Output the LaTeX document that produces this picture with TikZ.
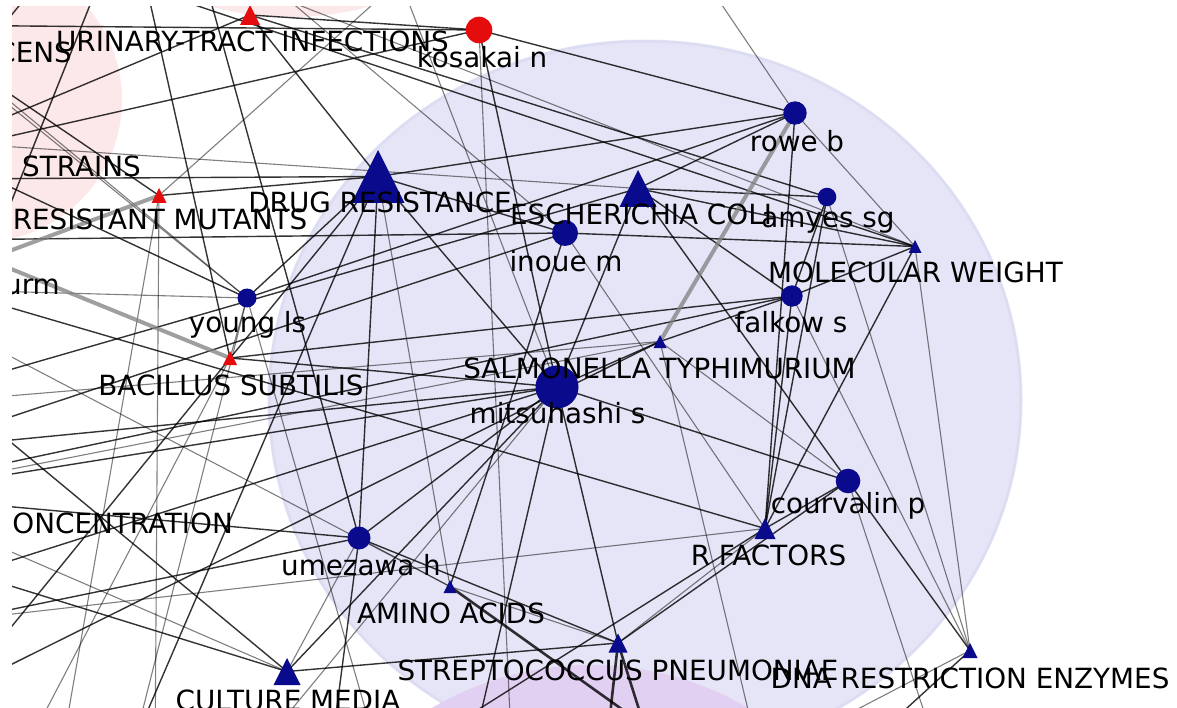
\documentclass[tikz,border=0pt]{standalone}
\usepackage{fontspec}
\setmainfont{DejaVu Sans}
\definecolor{navy}{RGB}{10,10,140}
\definecolor{nodered}{RGB}{228,12,12}
\definecolor{lav}{RGB}{229,229,247}
\definecolor{lavedge}{RGB}{212,212,240}
\definecolor{blush}{RGB}{252,232,232}
\definecolor{lilac}{RGB}{226,208,242}
\tikzset{
  e/.style={black, opacity=0.8, line width=1.4pt},
  el/.style={black, opacity=0.5, line width=1.1pt},
  et/.style={gray, opacity=0.75, line width=4pt},
  ed/.style={black, opacity=0.8, line width=2.6pt},
  lab/.style={inner sep=0pt, font=\fontsize{27.8}{30}\selectfont, text=black},
}
\newcommand\markertri[3]{\fill[#3] (#1) ++(0,-#2) -- ++(#2,2*#2) -- ++(-2*#2,0) -- cycle;}
\begin{document}
\begin{tikzpicture}[x=1pt,y=-1pt]
\useasboundingbox (0,0) rectangle (1177,708);
\fill[white] (0,0) rectangle (1177,708);
\begin{scope}
\clip (12,7) rectangle (1177,708);
% community shading
\fill[blush] (-20,100) circle (142pt);
\fill[blush] (290,-285) circle (302pt);
\fill[lav] (645,400) ellipse [x radius=377pt, y radius=360pt];
\draw[lavedge, line width=3pt, opacity=0.5] (645,400) ellipse [x radius=376pt, y radius=359pt];
\fill[lilac] (590,977) circle (312pt);

% node positions
\coordinate (uti) at (250,15);
\coordinate (kos) at (479,30);
\coordinate (resm) at (159,195.5);
\coordinate (drug) at (378,176.5);
\coordinate (ecoli) at (638,188.5);
\coordinate (rowe) at (795,113);
\coordinate (amyes) at (827,197);
\coordinate (inoue) at (565,233);
\coordinate (mw) at (915,246.5);
\coordinate (falkow) at (792,296);
\coordinate (salm) at (660,341.5);
\coordinate (mitsu) at (557,387);
\coordinate (young) at (247,298);
\coordinate (bac) at (230,358);
\coordinate (court) at (848,481);
\coordinate (rfac) at (765,528.5);
\coordinate (umez) at (359,538);
\coordinate (amino) at (450,586.5);
\coordinate (strep) at (618,643);
\coordinate (dna) at (970,650.5);
\coordinate (cult) at (287,671.5);
% nodes lying outside the frame
\coordinate (cens) at (-90,25);
\coordinate (strains) at (-90,140);
\coordinate (urm) at (-60,240);
\coordinate (conc) at (-120,495);
\coordinate (wA) at (-60,179);
\coordinate (wB) at (-60,145);
\coordinate (wC) at (-60,152);
\coordinate (wD) at (-50,273);
\coordinate (wE) at (-50,387);
\coordinate (wF) at (-50,437);
\coordinate (wG) at (-50,475);
\coordinate (wH) at (-50,446);
\coordinate (wI) at (-50,580);
\coordinate (wJ) at (-60,564);
\coordinate (wK) at (-40,400);
\coordinate (wL) at (-50,290);
\coordinate (wM) at (-40,60);
\coordinate (wN) at (-40,690);
\coordinate (wO) at (-40,330);
\coordinate (wP) at (-40,620);
\coordinate (tA) at (705,-20);
\coordinate (tB) at (100,-20);
\coordinate (tC) at (265,-20);
\coordinate (tD) at (205,-20);
\coordinate (tE) at (230,-22);
\coordinate (tF) at (165,-5);
\coordinate (tG) at (145,-20);
\coordinate (tH) at (40,-20);
\coordinate (tI) at (400,-20);
\coordinate (bA) at (512,760);
\coordinate (bB) at (155,760);
\coordinate (bC) at (135,740);
\coordinate (bD) at (330,760);
\coordinate (bE) at (605,760);
\coordinate (bF) at (655,760);
\coordinate (bG) at (693,760);
\coordinate (bH) at (430,740);
\coordinate (bI) at (850,760);
\coordinate (bJ) at (130,760);
\coordinate (bK) at (60,760);
\coordinate (bL) at (250,760);
\coordinate (bM) at (760,760);
\coordinate (bN) at (940,760);
\coordinate (bO) at (470,760);
\coordinate (bP) at (20,760);
\coordinate (bQ) at (380,760);

% connectors
\foreach \a/\b in {uti/kos, kos/rowe, kos/mitsu, rowe/drug, rowe/ecoli, rowe/rfac,
  drug/wA, drug/umez, drug/mitsu, drug/bC, ecoli/mitsu, ecoli/amyes, ecoli/mw,
  ecoli/court, inoue/mw, falkow/salm, falkow/rfac, amyes/rfac, mw/rfac, mw/falkow,
  court/dna, court/rfac, court/mitsu, strep/mitsu, strep/umez, strep/court,
  amino/inoue, umez/conc, umez/mitsu, young/rowe, bac/falkow, cult/mitsu,
  uti/drug, uti/amyes, wB/uti, wC/kos, urm/inoue, wE/ecoli, wF/inoue, wG/falkow,
  wH/mitsu, wI/mitsu, wJ/cult, wK/cult, wL/rfac, conc/mitsu, tD/umez, tF/mw,
  resm/drug, cens/kos, strains/young, wM/resm, cult/strep, rfac/bH, umez/bD,
  dna/bI, young/drug, mitsu/bac, inoue/drug, salm/mitsu, tB/wO, tH/strains,
  tG/bac, wN/drug, mitsu/bO, ecoli/falkow, amyes/falkow, wN/salm, wP/umez}
  \draw[e] (\a) -- (\b);
\foreach \a/\b in {kos/bA, rowe/mw, rowe/tA, amyes/dna, falkow/dna, young/bac,
  amino/umez, amino/drug, resm/bB, tC/inoue, tE/mw, young/wL, young/cens,
  tI/mitsu, wO/amino, wK/salm, rfac/strep, mw/dna, court/salm, umez/cult,
  conc/salm, strains/ecoli, wM/young, bJ/young, bK/resm, bL/mitsu, bM/salm,
  bN/court, tI/resm, dna/bM, strep/amino, inoue/rfac, bP/bac, bQ/young,
  wP/rfac, conc/cult}
  \draw[el] (\a) -- (\b);
\foreach \a/\b in {strep/bE, strep/bF, amino/bG}
  \draw[ed] (\a) -- (\b);
\draw[et] (rowe) -- (salm);
\draw[et] (urm) -- (bac);
\draw[et] (wD) -- (resm);

% markers
\fill[nodered] (kos) circle (13.3pt);
\fill[navy] (rowe) circle (11.7pt);
\fill[navy] (amyes) circle (9.3pt);
\fill[navy] (inoue) circle (13pt);
\fill[navy] (falkow) circle (10.7pt);
\fill[navy] (mitsu) circle (21.5pt);
\fill[navy] (young) circle (9.5pt);
\fill[navy] (court) circle (12.3pt);
\fill[navy] (umez) circle (11.5pt);
\markertri{uti}{10}{nodered}
\markertri{resm}{7.5}{nodered}
\markertri{bac}{7}{nodered}
\markertri{drug}{26.5}{navy}
\markertri{ecoli}{18.5}{navy}
\markertri{mw}{6.5}{navy}
\markertri{salm}{6.5}{navy}
\markertri{rfac}{10.5}{navy}
\markertri{amino}{6.5}{navy}
\markertri{strep}{9.5}{navy}
\markertri{dna}{7.5}{navy}
\markertri{cult}{13.5}{navy}

% labels
\node[lab, anchor=base] (l-uti) at (252.5,52) {URINARY-TRACT INFECTIONS};
\node[lab, anchor=base east] (l-cens) at (72,63) {CENS};
\node[lab, anchor=base] (l-kos) at (482,68) {kosakai n};
\node[lab, anchor=base west] (l-strains) at (22,177) {STRAINS};
\node[lab, anchor=base] (l-resm) at (160,230) {RESISTANT MUTANTS};
\node[lab, anchor=base] (l-drug) at (380,213) {DRUG RESISTANCE};
\node[lab, anchor=base] (l-ecoli) at (641,225) {ESCHERICHIA COLI};
\node[lab, anchor=base] (l-rowe) at (797,152) {rowe b};
\node[lab, anchor=base] (l-amyes) at (828,228) {amyes sg};
\node[lab, anchor=base] (l-inoue) at (566,272) {inoue m};
\node[lab, anchor=base] (l-mw) at (915.5,283) {MOLECULAR WEIGHT};
\node[lab, anchor=base] (l-falkow) at (791,333) {falkow s};
\node[lab, anchor=base] (l-salm) at (659.5,378) {SALMONELLA TYPHIMURIUM};
\node[lab, anchor=base] (l-mitsu) at (557.5,423) {mitsuhashi s};
\node[lab, anchor=base] (l-young) at (247.5,333) {young ls};
\node[lab, anchor=base] (l-bac) at (231,395) {BACILLUS SUBTILIS};
\node[lab, anchor=base east] (l-urm) at (60,295) {urm};
\node[lab, anchor=base east] (l-conc) at (233,533) {CONCENTRATION};
\node[lab, anchor=base] (l-court) at (848,513) {courvalin p};
\node[lab, anchor=base] (l-rfac) at (768.5,565) {R FACTORS};
\node[lab, anchor=base] (l-umez) at (361,575) {umezawa h};
\node[lab, anchor=base] (l-amino) at (451,623) {AMINO ACIDS};
\node[lab, anchor=base] (l-strep) at (618,680) {STREPTOCOCCUS PNEUMONIAE};
\node[lab, anchor=base] (l-dna) at (970,688) {DNA RESTRICTION ENZYMES};
\node[lab, anchor=base] (l-cult) at (288,710) {CULTURE MEDIA};
\end{scope}
\end{tikzpicture}
\end{document}
